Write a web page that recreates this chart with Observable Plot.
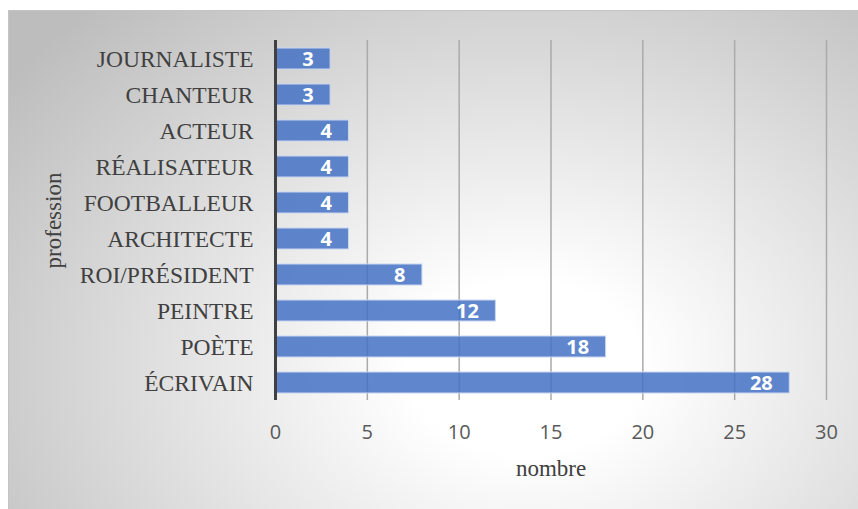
<!DOCTYPE html>
<html>
<head>
<meta charset="utf-8">
<script src="https://cdn.jsdelivr.net/npm/d3@7"></script>
<script src="https://cdn.jsdelivr.net/npm/@observablehq/plot@0.6"></script>
<style>
  html, body { margin: 0; padding: 0; background: #ffffff; }
  #wrap { position: relative; width: 858px; height: 509px; overflow: hidden; }
  #bg { position: absolute; left: 8px; top: 10px; width: 860px; height: 510px;
        border-top: 1px solid #c4c4c4; border-left: 1px solid #c4c4c4;
        background: radial-gradient(ellipse 75% 95% at 60% 70%, #ffffff 0%, #ffffff 18%, #bdbdbd 100%); }
  #chart { position: absolute; left: 0; top: 0; }
  #chart svg { background: transparent; }
</style>
</head>
<body>
<div id="wrap"><div id="bg"></div><div id="chart"></div></div>
<script>
const professions = ["JOURNALISTE", "CHANTEUR", "ACTEUR", "RÉALISATEUR", "FOOTBALLEUR", "ARCHITECTE", "ROI/PRÉSIDENT", "PEINTRE", "POÈTE", "ÉCRIVAIN"];
const counts = [3, 3, 4, 4, 4, 4, 8, 12, 18, 28];
const xTicks = [0, 5, 10, 15, 20, 25, 30];
const gridTicks = [5, 10, 15, 20, 25, 30];
const xLabel = "nombre";
const yLabel = "profession";

const data = professions.map((p, i) => ({profession: p, nombre: counts[i]}));

const serif = "'Liberation Serif', 'Times New Roman', serif";
const sans = "'Open Sans', 'Noto Sans', sans-serif";

const chart = Plot.plot({
  width: 858,
  height: 509,
  marginLeft: 275,
  marginRight: 32,
  marginTop: 40,
  marginBottom: 109,
  style: {background: "transparent", overflow: "visible"},
  x: {domain: [0, 30]},
  y: {domain: professions, paddingInner: 0.42, paddingOuter: 0.21},
  marks: [
    Plot.ruleX(gridTicks, {stroke: "#aaaaaa", strokeWidth: 1.5}),
    Plot.barX(data, {x: "nombre", y: "profession", fill: "#4472C4", fillOpacity: 0.85, stroke: "#c9d7ef", strokeWidth: 1}),
    Plot.ruleX([0], {stroke: "#404040", strokeWidth: 3}),
    Plot.text(data, {x: "nombre", y: "profession", text: d => String(d.nombre), textAnchor: "end", dx: -17, dy: 1,
      fill: "white", fontWeight: "bold", fontSize: 20, fontFamily: sans}),
    Plot.axisY({tickSize: 0, tickPadding: 22, label: null, fontSize: 23.5, fontFamily: serif, color: "#404040"}),
    Plot.axisX({ticks: xTicks, tickSize: 0, tickPadding: 24, label: null, fontSize: 20, fontFamily: sans, color: "#595959"}),
    Plot.text([xLabel], {frameAnchor: "bottom", dy: 68, textAnchor: "middle", lineAnchor: "middle", fontSize: 23, fontFamily: serif, fill: "#404040"}),
    Plot.text([yLabel], {frameAnchor: "left", dx: -222, rotate: -90, textAnchor: "middle", lineAnchor: "middle", fontSize: 23, fontFamily: serif, fill: "#404040"})
  ]
});
document.getElementById("chart").appendChild(chart);
</script>
</body>
</html>
